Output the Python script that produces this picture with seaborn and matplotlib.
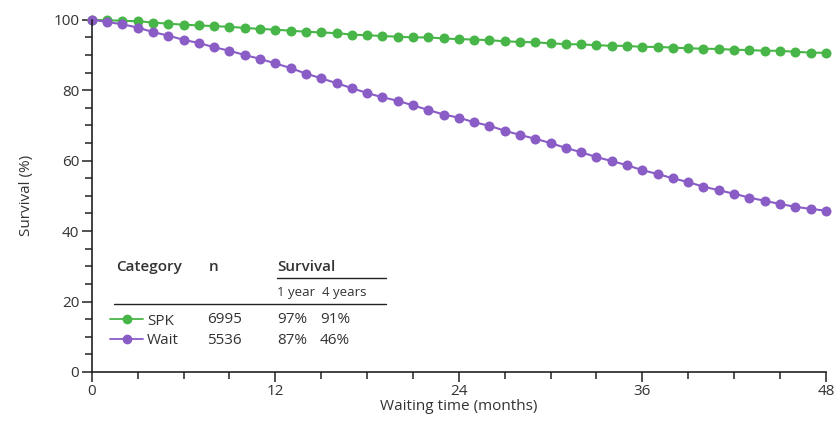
import numpy as np
import pandas as pd
import matplotlib
matplotlib.use("Agg")
import matplotlib.pyplot as plt
import seaborn as sns
from matplotlib.ticker import MultipleLocator

# survival, one point per month
months = list(range(49))
spk = [100, 99.9, 99.7, 99.6, 99.2, 98.9, 98.6, 98.4, 98.2, 98.0, 97.7, 97.4, 97.2,
       96.9, 96.6, 96.4, 96.2, 95.8, 95.6, 95.4, 95.2, 95.0, 95.0, 94.7, 94.5,
       94.4, 94.2, 93.9, 93.7, 93.6, 93.3, 93.1, 93.0, 92.8, 92.6, 92.6, 92.3,
       92.3, 92.1, 91.9, 91.8, 91.7, 91.5, 91.4, 91.2, 91.2, 90.9, 90.7, 90.6]
wait = [100, 99.4, 98.7, 97.8, 96.5, 95.5, 94.3, 93.4, 92.2, 91.2, 90.0, 88.9, 87.6,
        86.3, 84.7, 83.4, 82.0, 80.6, 79.2, 78.0, 77.0, 75.7, 74.4, 73.1, 72.2,
        70.9, 69.9, 68.5, 67.3, 66.2, 65.0, 63.6, 62.4, 61.0, 59.9, 58.7, 57.3,
        56.2, 55.0, 53.9, 52.6, 51.6, 50.6, 49.5, 48.6, 47.7, 46.9, 46.3, 45.8]

categories = ["SPK", "Wait"]
n_patients = ["6995", "5536"]
surv_1yr = ["97%", "87%"]
surv_4yr = ["91%", "46%"]
colors = {"SPK": "#48b548", "Wait": "#8a5cc6"}

df = pd.DataFrame({
    "month": months * 2,
    "survival": spk + wait,
    "category": ["SPK"] * len(spk) + ["Wait"] * len(wait),
})

sns.set_style("white")
plt.rcParams["font.family"] = ["Open Sans", "DejaVu Sans"]
txt = "#333333"

fig = plt.figure(figsize=(8.35, 4.3), dpi=100)
ax = fig.add_axes([0.110, 0.135, 0.879, 0.819])

sns.lineplot(data=df, x="month", y="survival", hue="category", palette=colors,
             marker="o", markersize=7.2, markeredgewidth=0, linewidth=1.5,
             ax=ax, clip_on=False, legend=False)

ax.set_xlim(0, 48)
ax.set_ylim(0, 100)
ax.xaxis.set_major_locator(MultipleLocator(12))
ax.xaxis.set_minor_locator(MultipleLocator(3))
ax.yaxis.set_major_locator(MultipleLocator(20))
ax.yaxis.set_minor_locator(MultipleLocator(5))
ax.tick_params(which="major", direction="out", length=7, width=1.1, color="#222222",
               labelsize=11, labelcolor=txt, left=True, bottom=True, pad=2)
ax.tick_params(which="minor", direction="out", length=5, width=1.1, color="#222222",
               left=True, bottom=True)
for s in ["top", "right"]:
    ax.spines[s].set_visible(False)
for s in ["left", "bottom"]:
    ax.spines[s].set_color("#222222")
    ax.spines[s].set_linewidth(1.2)

ax.set_xlabel("Waiting time (months)", fontsize=11, color=txt, labelpad=0)
ax.set_ylabel("Survival (%)", fontsize=11, color=txt, labelpad=14)

# inset table
def axpos(px, py):
    return (px - 92) / 734, (372 - py) / 352

fs = 11
for label, px in [("Category", 116), ("n", 209), ("Survival", 277)]:
    x, y = axpos(px, 267)
    ax.text(x, y, label, transform=ax.transAxes, fontsize=fs, fontweight="semibold",
            color=txt, va="center", ha="left")
for label, px in [("1 year", 277), ("4 years", 322)]:
    x, y = axpos(px, 293)
    ax.text(x, y, label, transform=ax.transAxes, fontsize=9.5, color=txt,
            va="center", ha="left")
x0, y0 = axpos(277, 278)
x1, _ = axpos(386, 278)
ax.plot([x0, x1], [y0, y0], transform=ax.transAxes, color="#222222", lw=1, clip_on=False)
x0, y0 = axpos(114, 304)
ax.plot([x0, x1], [y0, y0], transform=ax.transAxes, color="#222222", lw=1, clip_on=False)

handles = [plt.Line2D([], [], color=colors[c], marker="o", markersize=7,
                      markeredgewidth=0, lw=1.3) for c in categories]
lx, ly = axpos(110, 331)
leg = ax.legend(handles, categories, loc="center left", bbox_to_anchor=(lx, ly),
                frameon=False, fontsize=fs, handlelength=2.2, handletextpad=0.25,
                labelspacing=0.3, borderaxespad=0, borderpad=0)
for t in leg.get_texts():
    t.set_color(txt)

for i, py in enumerate([320, 341]):
    for val, px in [(n_patients[i], 207), (surv_1yr[i], 277), (surv_4yr[i], 320)]:
        x, y = axpos(px, py)
        ax.text(x, y, val, transform=ax.transAxes, fontsize=fs, color=txt,
                va="center", ha="left")

fig.savefig("out.png", dpi=100)
